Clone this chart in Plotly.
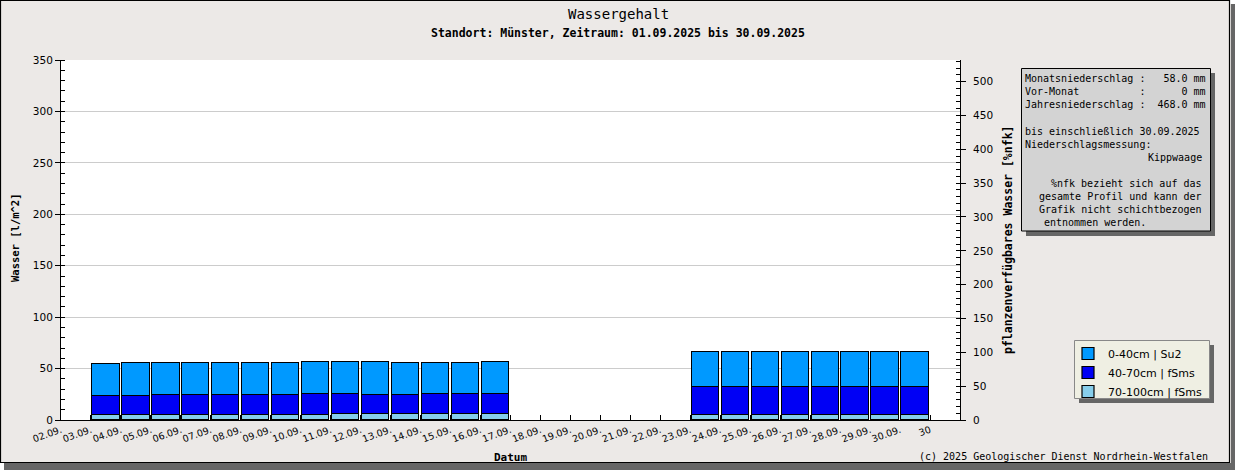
import plotly.graph_objects as go

# ---------------- data ----------------
days = ["03.09.", "04.09.", "05.09.", "06.09.", "07.09.", "08.09.", "09.09.",
        "10.09.", "11.09.", "12.09.", "13.09.", "14.09.", "15.09.", "16.09.",
        "17.09.", "18.09.", "19.09.", "20.09.", "21.09.", "22.09.",
        "23.09.", "24.09.", "25.09.", "26.09.", "27.09.", "28.09.", "29.09.", "30.09."]
layer_0_40 = [31.2, 32.1, 31.1, 31.1, 31.1, 31.1, 31.1, 31.1, 31.1, 32.1, 31.1, 30.1, 30.1, 31.1,
              None, None, None, None, None, None,
              34.0, 34.0, 34.0, 34.0, 34.0, 34.0, 34.0, 34.0]
layer_40_70 = [18.5, 18.5, 19.5, 19.5, 19.5, 19.5, 19.5, 20.5, 19.5, 18.5, 18.5, 19.5, 19.5, 19.5,
               None, None, None, None, None, None,
               26.6, 26.6, 26.6, 26.6, 26.6, 26.6, 26.6, 26.6]
layer_70_100 = [4.5, 4.5, 4.5, 4.5, 4.5, 4.5, 4.5, 4.5, 5.5, 5.5, 5.5, 5.5, 5.5, 5.5,
                None, None, None, None, None, None,
                5.2, 5.2, 5.2, 5.2, 5.2, 5.2, 5.2, 5.2]
tick_labels = ["02.09.", "03.09.", "04.09.", "05.09.", "06.09.", "07.09.", "08.09.", "09.09.",
               "10.09.", "11.09.", "12.09.", "13.09.", "14.09.", "15.09.", "16.09.", "17.09.",
               "18.09.", "19.09.", "20.09.", "21.09.", "22.09.", "23.09.", "24.09.", "25.09.",
               "26.09.", "27.09.", "28.09.", "29.09.", "30.09.", "30"]
series_names = ["0-40cm | Su2", "40-70cm | fSms", "70-100cm | fSms"]
nfk_max = 532  # right axis (%nfk) upper limit, corresponding to 350 l/m^2
info_lines = ["Monatsniederschlag :   58.0 mm",
              "Vor-Monat          :      0 mm",
              "Jahresniederschlag :  468.0 mm",
              "",
              "bis einschließlich 30.09.2025",
              "Niederschlagsmessung:",
              "Kippwaage",
              "",
              "%nfk bezieht sich auf das",
              "gesamte Profil und kann der",
              "Grafik nicht schichtbezogen",
              "entnommen werden."]
info_align = ["l", "l", "l", "", "l", "l", "r", "", "r", "r", "r", "l2"]

# ---------------- geometry ----------------
W, H = 1235, 470
L, R, T, B = 61, 960, 60, 420


def px(x):
    return (x - L) / (R - L)


def py(y):
    return (B - y) / (B - T)


x_pos = [i + 1.5 for i in range(len(days))]

fig = go.Figure()
bar_style = dict(width=0.91, marker_line_color="black", marker_line_width=1.2)
fig.add_trace(go.Bar(x=x_pos, y=layer_70_100, name=series_names[2],
                     marker_color="#87ceeb", **bar_style))
fig.add_trace(go.Bar(x=x_pos, y=layer_40_70, name=series_names[1],
                     marker_color="#0000f5", **bar_style))
fig.add_trace(go.Bar(x=x_pos, y=layer_0_40, name=series_names[0],
                     marker_color="#0099ff", **bar_style))
# empty trace so that the secondary (%nfk) axis is drawn
fig.add_trace(go.Scatter(x=[None], y=[None], yaxis="y2", showlegend=False,
                         hoverinfo="skip", mode="markers"))

frame_bg = "#ece9e7"
shapes = [
    # outer shadow
    dict(type="rect", xref="paper", yref="paper", x0=px(1231), x1=px(1236), y0=py(4), y1=py(471),
         fillcolor="#666666", line_width=0, layer="below"),
    dict(type="rect", xref="paper", yref="paper", x0=px(4), x1=px(1236), y0=py(463), y1=py(471),
         fillcolor="#666666", line_width=0, layer="below"),
    # white corners
    dict(type="rect", xref="paper", yref="paper", x0=px(1230), x1=px(1236), y0=py(-1), y1=py(4),
         fillcolor="white", line_width=0, layer="below"),
    dict(type="rect", xref="paper", yref="paper", x0=px(-1), x1=px(4), y0=py(462), y1=py(471),
         fillcolor="white", line_width=0, layer="below"),
    # frame border
    dict(type="rect", xref="paper", yref="paper", x0=px(0.5), x1=px(1229.5), y0=py(0.5), y1=py(462.5),
         line=dict(color="black", width=1.2), layer="below"),
    # info box shadow + box
    dict(type="rect", xref="paper", yref="paper", x0=px(1026), x1=px(1215), y0=py(73), y1=py(236),
         fillcolor="#666666", line_width=0, layer="below"),
    dict(type="rect", xref="paper", yref="paper", x0=px(1021.5), x1=px(1210.5), y0=py(68.5), y1=py(231),
         fillcolor="#d3d3d3", line=dict(color="black", width=1), layer="below"),
    # legend box shadow + box
    dict(type="rect", xref="paper", yref="paper", x0=px(1079), x1=px(1214), y0=py(345), y1=py(403),
         fillcolor="#666666", line_width=0, layer="below"),
    dict(type="rect", xref="paper", yref="paper", x0=px(1074.5), x1=px(1209.5), y0=py(340.5), y1=py(398.5),
         fillcolor="#efefe3", line=dict(color="#888888", width=1), layer="below"),
]

mono = "DejaVu Sans Mono"
annotations = [
    dict(text="Wassergehalt", x=px(618), y=py(14), xref="paper", yref="paper", showarrow=False,
         font=dict(family=mono, size=14, color="black"), xanchor="center", yanchor="middle"),
    dict(text="<b>Standort: Münster, Zeitraum: 01.09.2025 bis 30.09.2025</b>", x=px(618), y=py(33),
         xref="paper", yref="paper", showarrow=False,
         font=dict(family=mono, size=11.5, color="black"), xanchor="center", yanchor="middle"),
    dict(text="<b>Datum</b>", x=px(510), y=py(457), xref="paper", yref="paper", showarrow=False,
         font=dict(family=mono, size=11, color="black"), xanchor="center", yanchor="middle"),
    dict(text="<b>Wasser [l/m^2]</b>", x=px(15), y=py(238), xref="paper", yref="paper", showarrow=False,
         textangle=-90, font=dict(family=mono, size=10.5, color="black"), xanchor="center", yanchor="middle"),
    dict(text="<b>pflanzenverfügbares Wasser [%nfk]</b>", x=px(1008), y=py(240), xref="paper", yref="paper",
         showarrow=False, textangle=-90, font=dict(family=mono, size=11.5, color="black"),
         xanchor="center", yanchor="middle"),
    dict(text="(c) 2025 Geologischer Dienst Nordrhein-Westfalen", x=px(1210), y=py(456), xref="paper",
         yref="paper", showarrow=False, font=dict(family=mono, size=10, color="black"),
         xanchor="right", yanchor="middle"),
]
for i, (line, al) in enumerate(zip(info_lines, info_align)):
    if not line:
        continue
    yy = 78.8 + 13.06 * i
    if al == "r":
        xx, xa = 1204, "right"
    elif al == "l2":
        xx, xa = 1041.5, "left"
    else:
        xx, xa = 1023, "left"
    annotations.append(dict(text=line.replace(" ", "\u00a0"), x=px(xx), y=py(yy), xref="paper", yref="paper",
                            showarrow=False, xanchor=xa, yanchor="middle",
                            font=dict(family=mono, size=10, color="black")))

fig.update_layout(
    width=W, height=H,
    margin=dict(l=L, r=W - R, t=T, b=H - B, autoexpand=False),
    paper_bgcolor=frame_bg, plot_bgcolor="white",
    barmode="stack", bargap=0,
    font=dict(family="DejaVu Sans", size=11, color="black"),
    showlegend=True,
    legend=dict(x=px(1068), y=py(339), xanchor="left", yanchor="top", traceorder="reversed",
                bgcolor="rgba(0,0,0,0)", borderwidth=0, font=dict(family="DejaVu Sans", size=11),
                itemclick=False),
    xaxis=dict(range=[0, 30], tickvals=list(range(len(tick_labels))), ticktext=tick_labels,
               tickangle=-20, ticks="inside", ticklen=5, tickcolor="black", showgrid=False,
               showline=True, linecolor="black", linewidth=1, zeroline=False,
               tickfont=dict(family="DejaVu Sans", size=9.5)),
    yaxis=dict(range=[0, 350], dtick=50, ticks="outside", ticklen=5, tickcolor="black",
               showline=True, linecolor="black", linewidth=1, gridcolor="#cccccc", zeroline=False,
               tickfont=dict(family="DejaVu Sans", size=10.5),
               minor=dict(dtick=10, ticks="inside", ticklen=4, tickcolor="black", showgrid=False)),
    yaxis2=dict(range=[0, nfk_max], dtick=50, overlaying="y", side="right", ticks="outside", ticklen=5,
                tickcolor="black", showline=True, linecolor="black", linewidth=1, showgrid=False,
                zeroline=False, tickfont=dict(family="DejaVu Sans", size=10.5), ticklabelstandoff=5,
                minor=dict(dtick=10, ticks="inside", ticklen=4, tickcolor="black", showgrid=False)),
    shapes=shapes,
    annotations=annotations,
)

fig.write_html("out.html", config={"displayModeBar": False},
               post_script="document.body.style.margin='0';document.body.style.overflow='hidden';")
